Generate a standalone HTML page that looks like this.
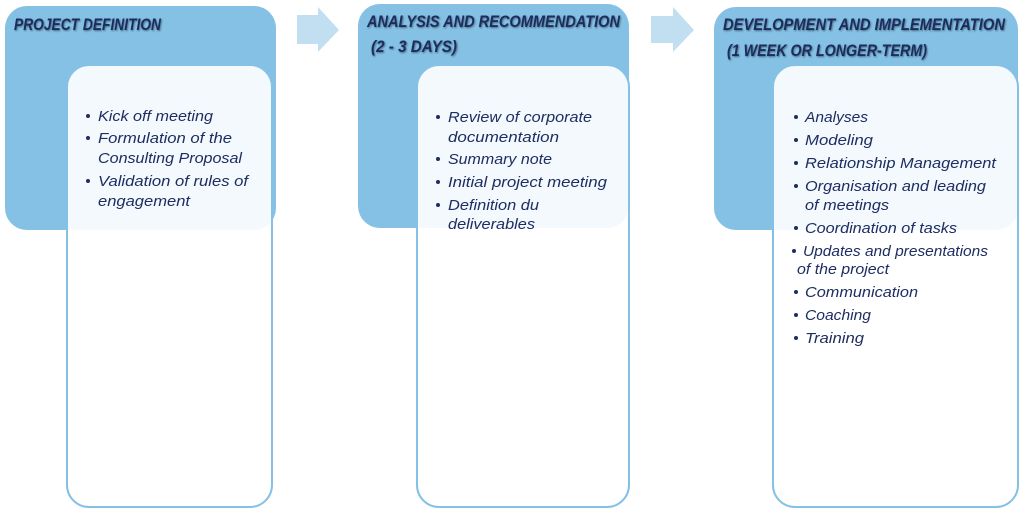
<!DOCTYPE html>
<html>
<head>
<meta charset="utf-8">
<style>
  html,body{margin:0;padding:0;background:#fff;}
  svg{display:block;}
  .h{font-family:"Liberation Sans",sans-serif;font-weight:bold;font-style:italic;font-size:16.5px;fill:#1c2c5e;text-shadow:1px 1px 2px rgba(0,0,0,0.45);}
  .t{font-family:"Liberation Sans",sans-serif;font-style:italic;font-size:15px;fill:#1e2d62;}
  .d{fill:#1e2d62;}
</style>
</head>
<body>
<svg width="1024" height="525" viewBox="0 0 1024 525" xmlns="http://www.w3.org/2000/svg">
  <!-- outer blue boxes -->
  <rect x="5" y="6" width="271" height="224" rx="22" fill="#84c1e5"/>
  <rect x="358" y="4" width="271" height="224" rx="22" fill="#84c1e5"/>
  <rect x="714" y="7" width="304" height="223" rx="22" fill="#84c1e5"/>

  <!-- arrows -->
  <polygon points="297,15 318,15 318,7 339,30 318,52 318,44 297,44" fill="#c2dff1"/>
  <polygon points="651,16 673,16 673,7 694,30 673,52 673,43 651,43" fill="#c2dff1"/>

  <!-- inner boxes -->
  <rect x="67" y="65" width="205" height="442" rx="22" fill="rgba(255,255,255,0.9)" stroke="#84c1e5" stroke-width="2"/>
  <rect x="417" y="65" width="212" height="442" rx="22" fill="rgba(255,255,255,0.9)" stroke="#84c1e5" stroke-width="2"/>
  <rect x="773" y="65" width="245" height="442" rx="22" fill="rgba(255,255,255,0.9)" stroke="#84c1e5" stroke-width="2"/>

  <!-- headings -->
  <text class="h" x="14" y="30" textLength="147" lengthAdjust="spacingAndGlyphs">PROJECT DEFINITION</text>
  <text class="h" x="367" y="27" textLength="253" lengthAdjust="spacingAndGlyphs">ANALYSIS AND RECOMMENDATION</text>
  <text class="h" x="371" y="52" textLength="86" lengthAdjust="spacingAndGlyphs">(2  - 3 DAYS)</text>
  <text class="h" x="723" y="30" textLength="282" lengthAdjust="spacingAndGlyphs">DEVELOPMENT AND IMPLEMENTATION</text>
  <text class="h" x="727" y="56" textLength="200" lengthAdjust="spacingAndGlyphs">(1 WEEK OR LONGER-TERM)</text>

  <!-- block 1 items -->
  <circle class="d" cx="88" cy="116" r="2"/>
  <text class="t" x="98" y="121" textLength="115" lengthAdjust="spacingAndGlyphs">Kick off meeting</text>
  <circle class="d" cx="88" cy="138" r="2"/>
  <text class="t" x="98" y="143" textLength="134" lengthAdjust="spacingAndGlyphs">Formulation of the</text>
  <text class="t" x="98" y="163" textLength="144" lengthAdjust="spacingAndGlyphs">Consulting Proposal</text>
  <circle class="d" cx="88" cy="181" r="2"/>
  <text class="t" x="98" y="186" textLength="150" lengthAdjust="spacingAndGlyphs">Validation of rules of</text>
  <text class="t" x="98" y="206" textLength="92" lengthAdjust="spacingAndGlyphs">engagement</text>

  <!-- block 2 items -->
  <circle class="d" cx="438" cy="117" r="2"/>
  <text class="t" x="448" y="122" textLength="144" lengthAdjust="spacingAndGlyphs">Review of corporate</text>
  <text class="t" x="448" y="142" textLength="111" lengthAdjust="spacingAndGlyphs">documentation</text>
  <circle class="d" cx="438" cy="159" r="2"/>
  <text class="t" x="448" y="164" textLength="104" lengthAdjust="spacingAndGlyphs">Summary note</text>
  <circle class="d" cx="438" cy="182" r="2"/>
  <text class="t" x="448" y="187" textLength="159" lengthAdjust="spacingAndGlyphs">Initial project meeting</text>
  <circle class="d" cx="438" cy="205" r="2"/>
  <text class="t" x="448" y="210" textLength="91" lengthAdjust="spacingAndGlyphs">Definition du</text>
  <text class="t" x="448" y="229" textLength="87" lengthAdjust="spacingAndGlyphs">deliverables</text>

  <!-- block 3 items -->
  <circle class="d" cx="796" cy="117" r="2"/>
  <text class="t" x="805" y="122" textLength="63" lengthAdjust="spacingAndGlyphs">Analyses</text>
  <circle class="d" cx="796" cy="140" r="2"/>
  <text class="t" x="805" y="145" textLength="68" lengthAdjust="spacingAndGlyphs">Modeling</text>
  <circle class="d" cx="796" cy="163" r="2"/>
  <text class="t" x="805" y="168" textLength="191" lengthAdjust="spacingAndGlyphs">Relationship Management</text>
  <circle class="d" cx="796" cy="186" r="2"/>
  <text class="t" x="805" y="191" textLength="181" lengthAdjust="spacingAndGlyphs">Organisation and leading</text>
  <text class="t" x="805" y="210" textLength="84" lengthAdjust="spacingAndGlyphs">of meetings</text>
  <circle class="d" cx="796" cy="228" r="2"/>
  <text class="t" x="805" y="233" textLength="152" lengthAdjust="spacingAndGlyphs">Coordination of tasks</text>
  <circle class="d" cx="794" cy="251" r="2"/>
  <text class="t" x="803" y="256" textLength="185" lengthAdjust="spacingAndGlyphs">Updates and presentations</text>
  <text class="t" x="797" y="274" textLength="92" lengthAdjust="spacingAndGlyphs">of the project</text>
  <circle class="d" cx="796" cy="292" r="2"/>
  <text class="t" x="805" y="297" textLength="113" lengthAdjust="spacingAndGlyphs">Communication</text>
  <circle class="d" cx="796" cy="315" r="2"/>
  <text class="t" x="805" y="320" textLength="66" lengthAdjust="spacingAndGlyphs">Coaching</text>
  <circle class="d" cx="796" cy="338" r="2"/>
  <text class="t" x="805" y="343" textLength="59" lengthAdjust="spacingAndGlyphs">Training</text>
</svg>
</body>
</html>
